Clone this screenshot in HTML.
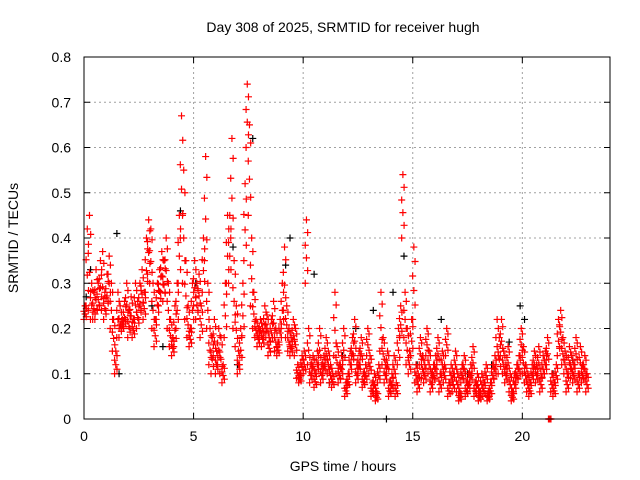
<!DOCTYPE html>
<html><head><meta charset="utf-8"><style>
body{margin:0;background:#fff}
svg{display:block;font-family:"Liberation Sans",sans-serif}
</style></head><body>
<svg id="c" width="640" height="480">
<text x="343" y="32" text-anchor="middle" font-size="14">Day 308 of 2025, SRMTID for receiver hugh</text>
<text x="343" y="471" text-anchor="middle" font-size="14">GPS time / hours</text>
<text transform="translate(18,238) rotate(-90)" text-anchor="middle" font-size="14">SRMTID / TECUs</text>
<g id="grid"></g><g id="marks"></g><g id="axes"></g>
</svg>
<script>
const xTicks=[0,5,10,15,20];
const yTicks=[0,0.1,0.2,0.3,0.4,0.5,0.6,0.7,0.8];
const yTickLabels=["0","0.1","0.2","0.3","0.4","0.5","0.6","0.7","0.8"];
const binHours=0.1;
const redHigh=[0.25,0.42,0.45,0.30,0.28,0.33,0.30,0.35,0.37,0.28,
0.32,0.36,0.30,0.22,0.15,0.28,0.25,0.22,0.26,0.30,
0.24,0.27,0.22,0.30,0.26,0.30,0.33,0.28,0.40,0.44,
0.42,0.30,0.22,0.30,0.33,0.37,0.35,0.40,0.30,0.22,
0.18,0.25,0.30,0.45,0.67,0.55,0.35,0.25,0.20,0.30,
0.35,0.30,0.32,0.25,0.40,0.58,0.30,0.20,0.18,0.22,
0.15,0.20,0.18,0.12,0.30,0.45,0.45,0.62,0.35,0.25,
0.15,0.20,0.30,0.52,0.74,0.65,0.40,0.28,0.22,0.20,
0.22,0.20,0.25,0.23,0.18,0.22,0.26,0.20,0.17,0.22,
0.30,0.38,0.25,0.20,0.18,0.22,0.20,0.12,0.10,0.14,
0.15,0.44,0.20,0.12,0.14,0.10,0.15,0.20,0.12,0.14,
0.18,0.15,0.12,0.10,0.28,0.16,0.12,0.14,0.20,0.08,
0.10,0.15,0.18,0.22,0.12,0.15,0.18,0.10,0.12,0.20,
0.14,0.08,0.10,0.06,0.12,0.28,0.18,0.12,0.15,0.08,
0.10,0.14,0.08,0.20,0.25,0.54,0.28,0.20,0.15,0.22,
0.38,0.12,0.10,0.18,0.14,0.12,0.20,0.15,0.10,0.12,
0.14,0.18,0.10,0.15,0.12,0.20,0.08,0.12,0.10,0.15,
0.10,0.06,0.12,0.14,0.08,0.10,0.12,0.16,0.08,0.10,
0.06,0.10,0.08,0.12,0.06,0.08,0.12,0.14,0.22,0.18,
0.22,0.15,0.12,0.16,0.10,0.06,0.10,0.12,0.14,0.20,
0.16,0.12,0.10,0.08,0.12,0.15,0.12,0.16,0.10,0.14,
0.15,0.18,0.00,0.10,0.08,0.12,0.22,0.24,0.18,0.15,
0.10,0.16,0.14,0.12,0.18,0.10,0.16,0.12,0.14,0.10];
const redLow=[0.22,0.25,0.24,0.22,0.22,0.22,0.24,0.25,0.24,0.22,
0.24,0.26,0.20,0.15,0.10,0.18,0.18,0.20,0.20,0.22,
0.18,0.20,0.18,0.22,0.20,0.22,0.24,0.22,0.28,0.32,
0.30,0.20,0.16,0.22,0.25,0.28,0.26,0.28,0.20,0.16,
0.14,0.16,0.20,0.30,0.40,0.30,0.22,0.18,0.16,0.20,
0.25,0.22,0.24,0.18,0.28,0.35,0.20,0.12,0.10,0.14,
0.10,0.12,0.10,0.08,0.18,0.30,0.30,0.40,0.20,0.16,
0.10,0.12,0.18,0.35,0.60,0.45,0.25,0.20,0.18,0.16,
0.18,0.16,0.18,0.18,0.14,0.17,0.18,0.15,0.14,0.17,
0.20,0.24,0.18,0.15,0.14,0.16,0.14,0.09,0.08,0.10,
0.10,0.30,0.12,0.08,0.10,0.07,0.10,0.12,0.08,0.10,
0.12,0.10,0.08,0.07,0.14,0.10,0.08,0.09,0.12,0.05,
0.07,0.10,0.12,0.14,0.08,0.10,0.12,0.07,0.08,0.14,
0.10,0.05,0.06,0.04,0.08,0.15,0.12,0.08,0.10,0.05,
0.06,0.09,0.05,0.12,0.18,0.40,0.18,0.12,0.10,0.14,
0.22,0.08,0.06,0.12,0.09,0.08,0.14,0.10,0.06,0.08,
0.09,0.12,0.06,0.10,0.08,0.14,0.05,0.08,0.06,0.10,
0.06,0.04,0.08,0.09,0.05,0.06,0.08,0.10,0.05,0.06,
0.04,0.06,0.05,0.08,0.04,0.05,0.08,0.09,0.12,0.10,
0.14,0.10,0.08,0.10,0.06,0.04,0.06,0.08,0.09,0.14,
0.10,0.08,0.06,0.05,0.08,0.10,0.08,0.10,0.06,0.09,
0.10,0.12,0.00,0.06,0.05,0.08,0.14,0.16,0.12,0.10,
0.06,0.10,0.09,0.08,0.12,0.06,0.10,0.08,0.09,0.06];
const blackTimes=[0.1,0.3,1.5,1.6,3.1,3.6,4.4,5.1,6.8,7.0,7.7,9.2,9.4,10.5,11.2,11.8,12.4,13.2,13.8,14.1,14.6,15.2,16.3,17.5,18.6,19.4,19.9,20.1,21.4,22.3];
const blackValues=[0.27,0.33,0.41,0.10,0.25,0.16,0.46,0.30,0.38,0.12,0.62,0.34,0.40,0.32,0.08,0.14,0.20,0.24,0.00,0.28,0.36,0.12,0.22,0.10,0.12,0.17,0.25,0.22,0.10,0.13];

const L=84,R=610,T=57,B=419;
const xs=h=>L+h*(R-L)/24;
const ys=v=>B-v*(B-T)/0.8;
const NS="http://www.w3.org/2000/svg";
function mk(p,tag,a){const e=document.createElementNS(NS,tag);for(const k in a)e.setAttribute(k,a[k]);p.appendChild(e);return e;}
const grid=document.getElementById('grid'),marks=document.getElementById('marks'),axes=document.getElementById('axes');
xTicks.forEach(t=>{
 const l=mk(grid,'line',{x1:xs(t),x2:xs(t),y1:T,y2:B,stroke:'#a0a0a0','stroke-dasharray':'2,3'});
 
 
 const tk=mk(axes,'path',{d:`M${xs(t)},${B}v-6M${xs(t)},${T}v6`,stroke:'#000'});
 
 
 const tx=mk(axes,'text',{x:xs(t),y:B+22,'text-anchor':'middle','font-size':14});
 tx.textContent=String(t);
 
 
});
yTicks.forEach((t,i)=>{
 const l=mk(grid,'line',{x1:L,x2:R,y1:ys(t),y2:ys(t),stroke:'#a0a0a0','stroke-dasharray':'2,3'});
 
 
 const tk=mk(axes,'path',{d:`M${L},${ys(t)}h6M${R},${ys(t)}h-6`,stroke:'#000'});
 
 
 const tx=mk(axes,'text',{x:L-13,y:ys(t)+5,'text-anchor':'end','font-size':14});
 tx.textContent=yTickLabels[i];
 
 
});
function plus(x,y,c,name){
 const p=mk(marks,'path',{d:`M${x-3.5},${y}h7M${x},${y-3.5}v7`,stroke:c,'stroke-width':1.2});
 
 
}
blackTimes.forEach((t,i)=>plus(xs(t),ys(blackValues[i]),'#000','black-point'));
const fracs=[0,0.2,0.4,0.6,0.8,1];
const offs=[-1,1,0,-1,1,0];
redHigh.forEach((v,i)=>{
 const x=xs(i*binHours+0.05);
 const lo=redLow[i];
 fracs.forEach((f,k)=>plus(x+offs[k]*1.2,ys(lo+(v-lo)*f),'#f00','red-point'));
});
const f=mk(axes,'rect',{x:L,y:T,width:R-L,height:B-T,fill:'none',stroke:'#000'});


</script>
</body></html>
